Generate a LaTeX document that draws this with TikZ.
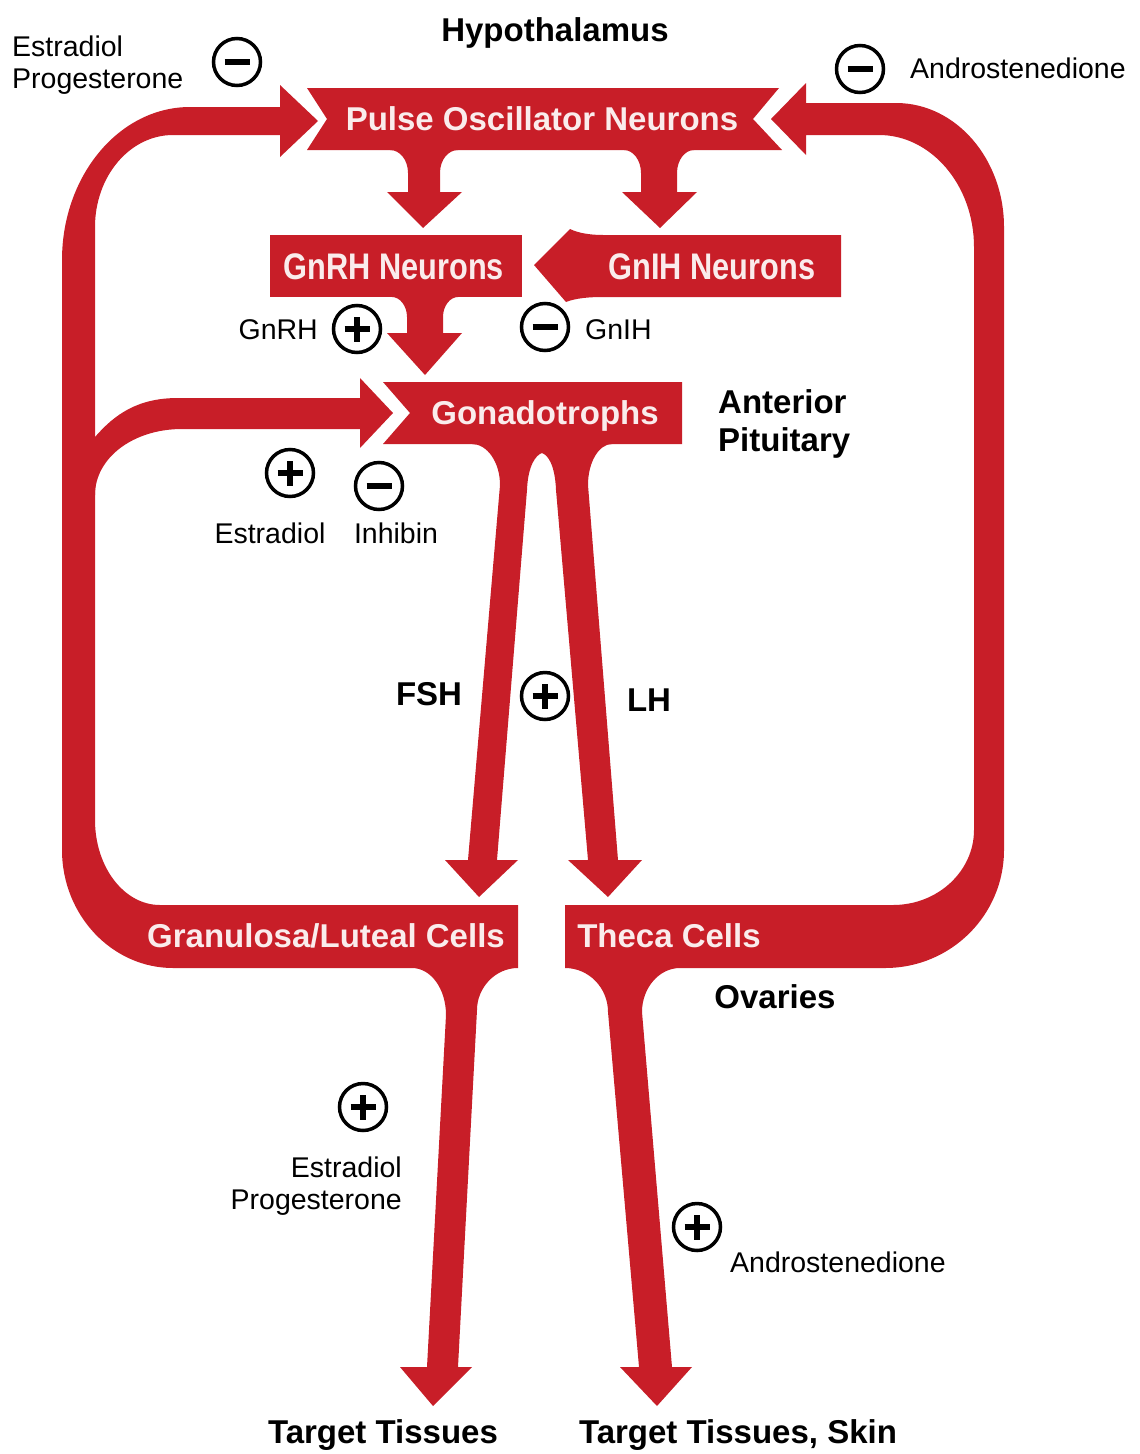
\documentclass[tikz,border=0pt]{standalone}
\usepackage{fontspec}
\setmainfont{Liberation Sans}
\newfontfamily\narrowsans[FakeStretch=0.83]{Liberation Sans}
\definecolor{hormred}{RGB}{200,30,40}
\definecolor{boxwhite}{RGB}{250,236,236}

\newcommand{\minusmark}[2]{%
  \node[sign] (#1) at (#2) {};
  \draw[signbar] ([xshift=-12.5pt]#1.center) -- ([xshift=12.5pt]#1.center);}
\newcommand{\plusmark}[2]{%
  \minusmark{#1}{#2}
  \draw[signbar] ([yshift=-12.5pt]#1.center) -- ([yshift=12.5pt]#1.center);}

\begin{document}
\begin{tikzpicture}[x=1pt, y=-1pt,
    redfill/.style={fill=hormred, draw=none},
    lbl/.style={inner sep=0pt, text height=20.5pt, text depth=0pt, font=\fontsize{28.5}{32}\selectfont},
    blbl/.style={inner sep=0pt, text height=23.7pt, text depth=0pt, font=\fontsize{33}{36}\selectfont\bfseries},
    boxlbl/.style={blbl, text=boxwhite},
    narrowlbl/.style={boxlbl, text height=26.5pt, font=\narrowsans\fontsize{37}{40}\selectfont\bfseries},
    sign/.style={circle, draw, line width=3.5pt, minimum size=47pt, inner sep=0pt},
    signbar/.style={line width=5.5pt}]
  \useasboundingbox (0,0) rectangle (1140,1454);

  % left loop, granulosa cells and their output
  \fill[redfill] (518,905) -- (160,905) .. controls (124,905) and (95,867) .. (95,820)
    -- (95,227) .. controls (95,176) and (130,135) .. (173,135)
    -- (280,135) -- (280,157) -- (318,121) -- (280,85) -- (280,107)
    -- (190,107) .. controls (119,107) and (62,176) .. (62,260)
    -- (62,850) .. controls (62,915) and (112,968) .. (173,968)
    -- (412,968) .. controls (431,968) and (446,989) .. (446,1015)
    -- (427,1367) -- (400,1367) -- (433,1406) -- (472,1367) -- (458,1367)
    -- (477,1010) .. controls (477,988) and (495,968) .. (518,968) -- cycle;
  \fill[redfill] (80,437) -- (95,437) .. controls (115,414) and (138,398) .. (178,398)
    -- (360,398) -- (360,378) -- (393,413) -- (360,448) -- (360,429)
    -- (182,429) .. controls (133,429) and (95,458) .. (95,495) -- (80,495) -- cycle;

  % right loop, theca cells
  \fill[redfill] (565,905) -- (893,905) .. controls (938,905) and (974,871) .. (974,830)
    -- (974,247) .. controls (974,185) and (931,135) .. (879,135)
    -- (806,135) -- (806,155) -- (771,119) -- (806,83) -- (806,103)
    -- (896,103) .. controls (956,103) and (1004,159) .. (1004,227)
    -- (1004,850) .. controls (1004,915) and (951,968) .. (885,968)
    -- (680,968) .. controls (659,968) and (642,988) .. (642,1012)
    -- (672,1367) -- (692,1367) -- (657,1406) -- (620,1367) -- (639,1367)
    -- (608,1012) .. controls (608,988) and (589,968) .. (565,968) -- cycle;

  % pulse oscillator
  \fill[redfill] (307,88) -- (779,88) -- (753,119) -- (782,150) -- (307,150) -- (327,119) -- cycle;
  \fill[redfill] (390,146) -- (390,150) .. controls (400,150) and (408,160) .. (408,173)
    -- (408,192) -- (387,192) -- (423,228) -- (462,192) -- (440,192) -- (440,173)
    .. controls (440,160) and (448,150) .. (458,150) -- (458,146) -- cycle;
  \fill[redfill] (624,146) -- (624,150) .. controls (633,150) and (641,160) .. (641,173)
    -- (641,192) -- (622,192) -- (660,228) -- (697,192) -- (677,192) -- (677,173)
    .. controls (677,160) and (685,150) .. (694,150) -- (694,146) -- cycle;

  % GnRH and GnIH
  \fill[redfill] (270,235) rectangle (522,297);
  \fill[redfill] (392,295) -- (392,297) .. controls (400,297) and (407,306) .. (407,317)
    -- (407,333) -- (387,333) -- (425,375) -- (462,333) -- (443,333) -- (443,317)
    .. controls (443,306) and (450,297) .. (458,297) -- (458,295) -- cycle;
  \fill[redfill] (534,265) -- (570,229) .. controls (578,233) and (590,235) .. (603,235)
    -- (841,235) -- (841,297) -- (603,297) .. controls (590,297) and (576,298) .. (566,302) -- cycle;

  % gonadotrophs, FSH and LH
  \fill[redfill] (383,382) -- (682,382) -- (682,444) -- (383,444) -- (410,413) -- cycle;
  \fill[redfill] (472,442) -- (472,444) .. controls (487,444) and (500,462) .. (500,485)
    -- (468,860) -- (445,860) -- (479,897) -- (518,860) -- (497,860)
    -- (527,490) .. controls (528,465) and (536,455) .. (542,453)
    .. controls (548,455) and (555,465) .. (556,490)
    -- (588,860) -- (568,860) -- (608,897) -- (642,860) -- (618,860)
    -- (588,485) .. controls (588,462) and (599,444) .. (612,444) -- (612,442) -- cycle;

  % texts in the shapes
  \node[boxlbl] (pulse) at (542,119) {Pulse Oscillator Neurons};
  \node[narrowlbl] (gnrh) at (394,266) {GnRH Neurons};
  \node[narrowlbl] (gnih) at (712,266) {GnIH Neurons};
  \node[boxlbl] (gonad) at (545,413) {Gonadotrophs};
  \node[boxlbl] (gran) at (326,936) {Granulosa/Luteal Cells};
  \node[boxlbl] (theca) at (669,936) {Theca Cells};

  % labels
  \node[blbl] (hypo) at (555,30) {Hypothalamus};
  \node[lbl, anchor=west] (estA) at (12,46) {Estradiol};
  \node[lbl, anchor=west] (progA) at ([yshift=-32pt]estA.west) {Progesterone};
  \node[lbl, anchor=west] (androA) at (910,68) {Androstenedione};
  \node[lbl, anchor=east] (gnrhlbl) at (318,329) {GnRH};
  \node[lbl, anchor=west] (gnihlbl) at (585,329) {GnIH};
  \node[blbl, anchor=west] (ant) at (718,402) {Anterior};
  \node[blbl, anchor=west] (pit) at ([yshift=-38pt]ant.west) {Pituitary};
  \node[lbl] (estB) at (270,533) {Estradiol};
  \node[lbl] (inh) at (396,533) {Inhibin};
  \node[blbl] (fsh) at (429,694) {FSH};
  \node[blbl] (lh) at (649,700) {LH};
  \node[blbl] (ovar) at (775,997) {Ovaries};
  \node[lbl, anchor=east] (estC) at (402,1167) {Estradiol};
  \node[lbl, anchor=east] (progC) at ([yshift=-32pt]estC.east) {Progesterone};
  \node[lbl, anchor=west] (androB) at (730,1262) {Androstenedione};
  \node[blbl] (targA) at (383,1432) {Target Tissues};
  \node[blbl] (targB) at (738,1432) {Target Tissues, Skin};

  % plus and minus marks
  \minusmark{sA}{237,62}
  \minusmark{sB}{860,69}
  \plusmark{sC}{357,329}
  \minusmark{sD}{545,327}
  \plusmark{sE}{290,473}
  \minusmark{sF}{379,486}
  \plusmark{sG}{545,696}
  \plusmark{sH}{363,1107}
  \plusmark{sI}{697,1227}
\end{tikzpicture}
\end{document}
